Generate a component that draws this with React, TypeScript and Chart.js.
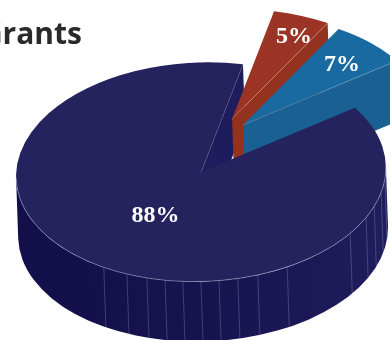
import React, { useEffect, useRef } from "react";
import { Chart, registerables } from "chart.js";

Chart.register(...registerables);

const titleText = "Grants";
const shares = [88, 5, 7];
const topColors = ["#24235e", "#9c3425", "#196aa0"];
const faceColors = ["#1e1c5c", "#93321f", "#1a6092"];
const edgeColors = ["rgba(150,150,185,0.75)", "rgba(225,170,150,0.7)", "rgba(130,170,205,0.7)"];
const sliceShifts = [
  { x: 0, y: 0 },
  { x: 32.9, y: -51.9 },
  { x: 43.6, y: -45.5 },
];
const labelRadii = [0.463, 0.81, 0.75];
const labelTurns = [0.492, 0.63, 0.57];
// Seams on the outer wall, in degrees either side of the front of the pie.
const wallSeams = [-32.9, -24.8, -18.2, -12.4, -6.8, -1.2, 4.4, 10.3, 16.7, 26.6, 52.6, 62, 68.3, 75.7, 83];

const SQUASH = 0.592;
const DEPTH = 60;
const TILT = (-2 * Math.PI) / 180;

// Draws the pie as a tilted disc: the library lays out the arcs, this adds walls and perspective.
const tiltedPie = {
  id: "tiltedPie",
  beforeDatasetsDraw(chart: any) {
    const ctx: CanvasRenderingContext2D = chart.ctx;
    const arcs = chart.getDatasetMeta(0).data;
    const main = arcs[0];
    const R = main.outerRadius;
    const ry = R * SQUASH;

    const endFaces = (i: number) => {
      const a = arcs[i];
      const s = sliceShifts[i];
      const r = a.outerRadius;
      const cx = a.x + s.x;
      const cy = a.y + s.y;
      for (const angle of [a.startAngle, a.endAngle]) {
        const visible = angle === a.endAngle ? Math.cos(angle) > 0 : Math.cos(angle) < 0;
        if (!visible) continue;
        const ox = cx + r * Math.cos(angle);
        const oy = cy + r * SQUASH * Math.sin(angle);
        ctx.beginPath();
        ctx.moveTo(cx, cy);
        ctx.lineTo(ox, oy);
        ctx.lineTo(ox, oy + DEPTH);
        ctx.lineTo(cx, cy + DEPTH);
        ctx.closePath();
        ctx.fillStyle = faceColors[i];
        ctx.fill();
      }
    };

    const topFace = (i: number) => {
      const a = arcs[i];
      const s = sliceShifts[i];
      ctx.save();
      ctx.translate(a.x + s.x, a.y + s.y);
      ctx.scale(1, SQUASH);
      ctx.translate(-a.x, -a.y);
      a.draw(ctx);
      ctx.restore();
    };

    const edgeLine = (i: number, angle: number) => {
      const a = arcs[i];
      const s = sliceShifts[i];
      const cx = a.x + s.x;
      const cy = a.y + s.y;
      ctx.beginPath();
      ctx.moveTo(cx, cy);
      ctx.lineTo(cx + a.outerRadius * Math.cos(angle), cy + a.outerRadius * SQUASH * Math.sin(angle));
      ctx.strokeStyle = edgeColors[i];
      ctx.lineWidth = 0.6;
      ctx.stroke();
    };

    ctx.save();
    ctx.translate(main.x, main.y);
    ctx.rotate(TILT);
    ctx.translate(-main.x, -main.y);

    // Outer wall of the large slice.
    const wall = ctx.createLinearGradient(main.x - R, 0, main.x + R, 0);
    wall.addColorStop(0, "#130f4b");
    wall.addColorStop(0.5, "#17134f");
    wall.addColorStop(1, "#201d5c");
    ctx.beginPath();
    ctx.ellipse(main.x, main.y, R, ry, 0, 0, Math.PI);
    ctx.lineTo(main.x - R, main.y + DEPTH);
    ctx.ellipse(main.x, main.y + DEPTH, R, ry, 0, Math.PI, 0, true);
    ctx.closePath();
    ctx.fillStyle = wall;
    ctx.fill();

    ctx.strokeStyle = "rgba(165,165,200,0.5)";
    ctx.lineWidth = 0.6;
    for (const deg of wallSeams) {
      const t = (deg * Math.PI) / 180;
      const x = main.x + R * Math.sin(t);
      const y = main.y + ry * Math.cos(t);
      ctx.beginPath();
      ctx.moveTo(x, y);
      ctx.lineTo(x, y + DEPTH);
      ctx.stroke();
    }

    endFaces(0);
    edgeLine(0, main.endAngle);

    // Pulled-out slices sit behind the top of the large slice.
    for (const i of [1, 2]) {
      endFaces(i);
      topFace(i);
      edgeLine(i, arcs[i].endAngle);
    }

    topFace(0);

    // Light rim where the top meets the wall.
    ctx.beginPath();
    ctx.ellipse(main.x, main.y, R, ry, 0, 0, Math.PI);
    ctx.strokeStyle = "rgba(170,170,205,0.75)";
    ctx.lineWidth = 0.7;
    ctx.stroke();

    ctx.restore();
    return false;
  },
  afterDraw(chart: any) {
    const ctx: CanvasRenderingContext2D = chart.ctx;
    const arcs = chart.getDatasetMeta(0).data;
    ctx.save();

    ctx.fillStyle = "#2a2a2c";
    ctx.font = "bold 30px 'Open Sans'";
    ctx.textAlign = "right";
    ctx.textBaseline = "alphabetic";
    ctx.fillText(titleText, 82, 44);

    ctx.fillStyle = "#ffffff";
    ctx.font = "bold 24px 'Liberation Serif'";
    ctx.textAlign = "center";
    ctx.textBaseline = "middle";
    arcs.forEach((a: any, i: number) => {
      const angle = a.startAngle + labelTurns[i] * (a.endAngle - a.startAngle);
      const r = a.outerRadius * labelRadii[i];
      const fx = sliceShifts[i].x + r * Math.cos(angle);
      const fy = sliceShifts[i].y + r * SQUASH * Math.sin(angle);
      const x = a.x + fx * Math.cos(TILT) - fy * Math.sin(TILT);
      const y = a.y + fx * Math.sin(TILT) + fy * Math.cos(TILT);
      ctx.fillText(`${shares[i]}%`, x, y);
    });
    ctx.restore();
  },
};

export default function App() {
  const canvasRef = useRef<HTMLCanvasElement>(null);

  useEffect(() => {
    const chart = new Chart(canvasRef.current as HTMLCanvasElement, {
      type: "pie",
      data: {
        labels: shares.map((v) => `${v}%`),
        datasets: [
          {
            data: shares,
            backgroundColor: topColors,
            borderWidth: 0,
            radius: 185,
          } as any,
        ],
      },
      options: {
        responsive: false,
        animation: false,
        devicePixelRatio: 1,
        rotation: 57.5,
        layout: { padding: { left: 12, right: 0, top: 4, bottom: 0 } },
        plugins: { legend: { display: false }, tooltip: { enabled: false } },
      },
      plugins: [tiltedPie],
    } as any);
    return () => chart.destroy();
  }, []);

  return (
    <div style={{ position: "absolute", left: 0, top: 0, width: 390, height: 340, overflow: "hidden" }}>
      <canvas ref={canvasRef} width={390} height={340} style={{ display: "block" }} />
    </div>
  );
}
